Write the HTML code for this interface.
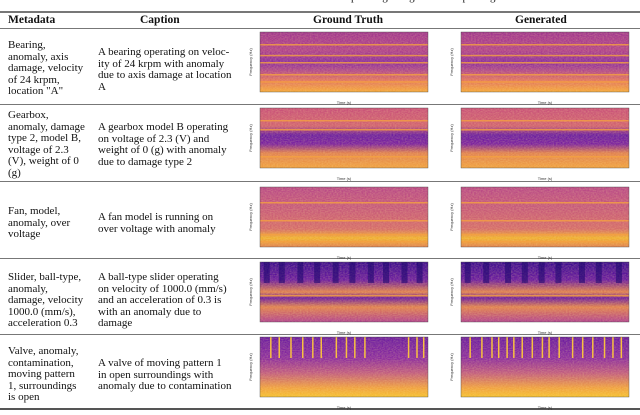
<!DOCTYPE html>
<html lang="en"><head><meta charset="utf-8">
<style>
body{margin:0;width:640px;height:410px;background:#fff;position:relative;overflow:hidden;font-family:"Liberation Serif",serif;color:#111}
.rule{position:absolute;left:0;width:640px;background:#777}
.hd{position:absolute;top:14px;font-weight:bold;font-size:11.5px}
.meta,.cap{position:absolute;font-size:11px;line-height:11.6px;white-space:nowrap}
.meta{left:8px}
.cap{left:98px}
svg.sp{position:absolute}
.top{position:absolute;top:-9px;left:240px;font-size:11px;white-space:nowrap}
</style></head><body>
<div class="top">Table 3. Results of the captioning and generation spectrogram</div>
<div class="rule" style="top:11px;height:2px"></div>
<div class="hd" style="left:8px">Metadata</div>
<div class="hd" style="left:140px">Caption</div>
<div class="hd" style="left:313px">Ground Truth</div>
<div class="hd" style="left:515px">Generated</div>
<div class="rule" style="top:28px;height:1px"></div>

<div class="meta" style="top:40px">Bearing,<br>anomaly, axis<br>damage, velocity<br>of 24 krpm,<br>location "A"</div>
<div class="cap" style="top:47px">A bearing operating on veloc-<br>ity of 24 krpm with anomaly<br>due to axis damage at location<br>A</div>
<div class="rule" style="top:104px;height:1px"></div>

<div class="meta" style="top:110px">Gearbox,<br>anomaly, damage<br>type 2, model B,<br>voltage of 2.3<br>(V), weight of 0<br>(g)</div>
<div class="cap" style="top:122px">A gearbox model B operating<br>on voltage of 2.3 (V) and<br>weight of 0 (g) with anomaly<br>due to damage type 2</div>
<div class="rule" style="top:181px;height:1px"></div>

<div class="meta" style="top:206px">Fan, model,<br>anomaly, over<br>voltage</div>
<div class="cap" style="top:212px">A fan model is running on<br>over voltage with anomaly</div>
<div class="rule" style="top:258px;height:1px"></div>

<div class="meta" style="top:272px">Slider, ball-type,<br>anomaly,<br>damage, velocity<br>1000.0 (mm/s),<br>acceleration 0.3</div>
<div class="cap" style="top:272px">A ball-type slider operating<br>on velocity of 1000.0 (mm/s)<br>and an acceleration of 0.3 is<br>with an anomaly due to<br>damage</div>
<div class="rule" style="top:334px;height:1px"></div>

<div class="meta" style="top:346px">Valve, anomaly,<br>contamination,<br>moving pattern<br>1, surroundings<br>is open</div>
<div class="cap" style="top:358px">A valve of moving pattern 1<br>in open surroundings with<br>anomaly due to contamination</div>
<div class="rule" style="top:408px;height:2px;background:#555"></div>

<script>
const rowTops = [32, 108, 187, 262, 337];
const rowStops = [
 [["0","#a0358f"],["0.3","#b0408a"],["0.5","#8a2aa0"],["0.65","#b24888"],["0.8","#e07060"],["1","#f5a83a"]],
 [["0","#c8507a"],["0.3","#d06070"],["0.45","#6a1ca0"],["0.6","#7a20a0"],["0.75","#e08050"],["1","#f0a040"]],
 [["0","#b84888"],["0.4","#c85a78"],["0.7","#d46a6a"],["0.85","#f0b030"],["1","#e08050"]],
 [["0","#3a0a90"],["0.3","#6a1aa0"],["0.5","#e08050"],["0.6","#6a1aa0"],["0.75","#e08050"],["1","#b04090"]],
 [["0","#6a1aa0"],["0.35","#8a2aa0"],["0.6","#c05a80"],["0.85","#f0a040"],["1","#f5c030"]]
];
const stripes = [[0.2,0.38,0.5,0.7,0.82],[0.2,0.35,0.8],[0.25,0.55,0.78,0.9],[0.55],[]];
const gtEvents = [[],[],[],[0.04,0.13,0.24,0.34,0.45,0.55,0.66,0.75,0.86,0.95],[0.06,0.11,0.18,0.25,0.31,0.36,0.45,0.51,0.56,0.62,0.88,0.93,0.97]];
const genEvents = [[],[],[],[0.04,0.15,0.28,0.38,0.48,0.58,0.72,0.82,0.94],[0.05,0.12,0.18,0.22,0.27,0.31,0.36,0.42,0.48,0.52,0.58,0.66,0.72,0.78,0.85,0.9,0.95]];
const cols = [[260,"gt"],[461,"gen"]];
const NS="http://www.w3.org/2000/svg";
rowTops.forEach((ty,r)=>{
 cols.forEach(([x0,kind])=>{
  const W=168,H=60;
  const svg=document.createElementNS(NS,"svg");
  svg.setAttribute("class","sp");
  
  
  svg.setAttribute("width",W+40);svg.setAttribute("height",H+20);
  svg.style.left=(x0-28)+"px";svg.style.top=(ty-2)+"px";
  const id=`g${r}${kind}`;
  let html=`<defs><linearGradient id="${id}" x1="0" y1="0" x2="0" y2="1">`+
   rowStops[r].map(s=>`<stop offset="${s[0]}" stop-color="${s[1]}"/>`).join("")+`</linearGradient>`+
   `<filter id="n${id}" x="0" y="0" width="1" height="1"><feTurbulence type="fractalNoise" baseFrequency="0.6 0.9" numOctaves="1" seed="${r*3+(kind==='gt'?1:2)}"/><feColorMatrix values="0 0 0 0 1  0 0 0 0 0.8  0 0 0 0 0.3  0 0 0 0.5 -0.15"/></filter>`+
   `<clipPath id="c${id}"><rect x="28" y="2" width="${W}" height="${H}"/></clipPath></defs>`;
  html+=`<rect x="28" y="2" width="${W}" height="${H}" fill="url(#${id})"/>`;
  html+=`<g clip-path="url(#c${id})"><rect x="28" y="2" width="${W}" height="${H}" filter="url(#n${id})"/></g>`;
  stripes[r].forEach(f=>{html+=`<rect x="28" y="${2+f*H}" width="${W}" height="1.5" fill="#f5a040" opacity="0.8"/>`;});
  const ev=kind==="gt"?gtEvents[r]:genEvents[r];
  ev.forEach(f=>{
   if(r===3) html+=`<rect x="${28+f*W-3}" y="2" width="6" height="${H*0.35}" fill="#200870" opacity="0.6"/>`;
   else html+=`<rect x="${28+f*W}" y="2" width="1.5" height="${H*0.35}" fill="#f8c040"/>`;
  });
  html+=`<rect x="28" y="2" width="${W}" height="${H}" fill="none" stroke="#444" stroke-width="0.4"/>`;
  html+=`<text x="${28+W/2}" y="${H+14}" font-size="4" text-anchor="middle" fill="#333" font-family="Liberation Sans, sans-serif">Time (s)</text>`;
  html+=`<text transform="translate(20,${2+H/2}) rotate(-90)" font-size="4" text-anchor="middle" fill="#333" font-family="Liberation Sans, sans-serif">Frequency (Hz)</text>`;
  svg.innerHTML=html;
  document.body.appendChild(svg);
 });
});
</script>
</body></html>
